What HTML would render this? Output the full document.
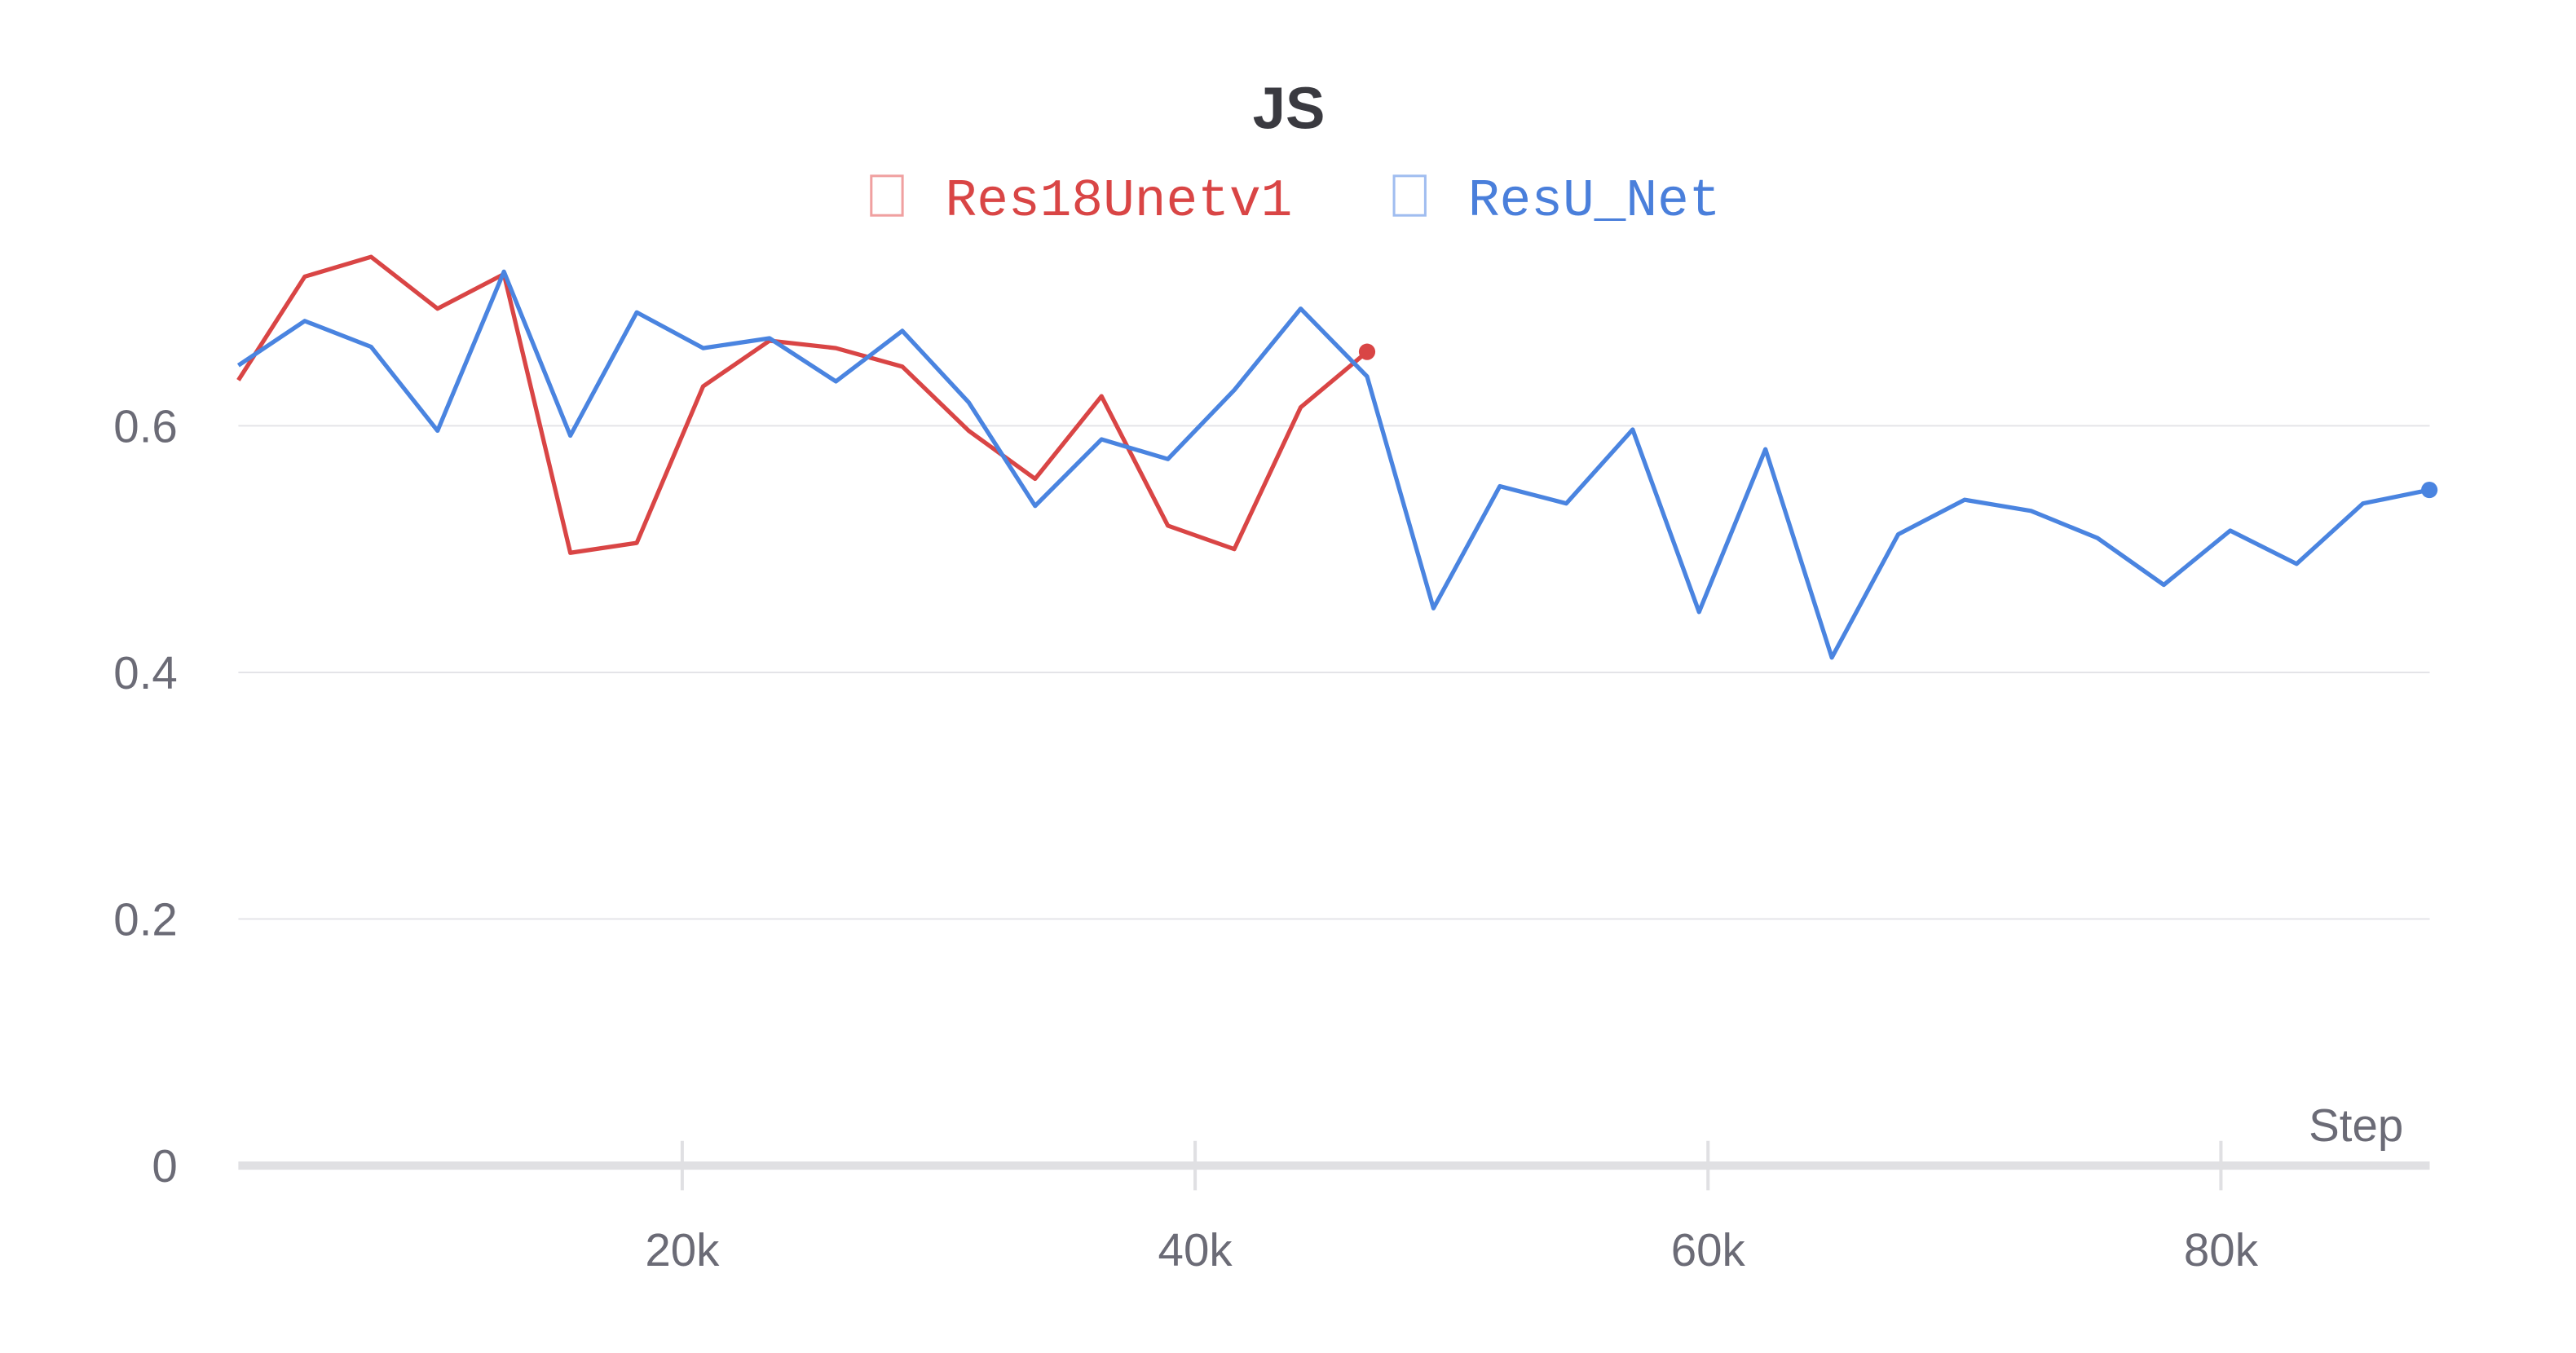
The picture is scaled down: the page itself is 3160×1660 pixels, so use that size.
<!DOCTYPE html>
<html><head><meta charset="utf-8"><style>
html,body{margin:0;padding:0;background:#fff;width:3160px;height:1660px;overflow:hidden}
svg{display:block}
</style></head><body>
<svg id="chart" width="3160" height="1660" viewBox="0 0 1567 823" preserveAspectRatio="none" xmlns="http://www.w3.org/2000/svg">
<text x="784" y="78" text-anchor="middle" font-family="Liberation Sans, sans-serif" font-weight="bold" font-size="36" fill="#3a3a40">JS</text>
<g>
<g>
<rect x="530" y="107" width="19" height="24" fill="none" stroke="#f0a0a0" stroke-width="1.5"/>
<text x="575" y="131" font-family="Liberation Mono, monospace" font-size="32" fill="#d94545">Res18Unetv1</text>
</g>
<g>
<rect x="848" y="107" width="19" height="24" fill="none" stroke="#a0bdf0" stroke-width="1.5"/>
<text x="893" y="131" font-family="Liberation Mono, monospace" font-size="32" fill="#4a7fdb">ResU_Net</text>
</g>
</g>
<g id="grid"></g><g id="axes"></g><g id="series"></g>
</svg>
<script>
const steps = [];
for (let i = 0; i < 34; i++) steps.push(2692 + i * 2589);
const resUNet = [0.649,0.685,0.664,0.596,0.725,0.592,0.692,0.663,0.671,0.636,0.677,0.619,0.535,0.589,0.573,0.629,0.695,0.640,0.452,0.551,0.537,0.597,0.449,0.581,0.412,0.512,0.540,0.531,0.509,0.471,0.515,0.488,0.537,0.548];
const res18 = [0.637,0.721,0.737,0.695,0.723,0.497,0.505,0.632,0.669,0.663,0.648,0.596,0.557,0.624,0.519,0.500,0.615,0.660];
const yTicks = [0, 0.2, 0.4, 0.6];
const yTickLabels = ["0", "0.2", "0.4", "0.6"];
const xTicks = [20000, 40000, 60000, 80000];
const xTickLabels = ["20k", "40k", "60k", "80k"];

const NS = "http://www.w3.org/2000/svg";
const X0 = 145, X1 = 1478;
const xs = s => 415 + (s - 20000) / 20000 * 312;
const ys = v => 709 - v * 750;
function mk(tag, attrs, parent) {
  const e = document.createElementNS(NS, tag);
  for (const k in attrs) e.setAttribute(k, attrs[k]);
  parent.appendChild(e);
  return e;
}
const grid = document.getElementById('grid');
const axes = document.getElementById('axes');
const series = document.getElementById('series');
yTicks.forEach((v, i) => {
  if (v !== 0) {
    const l = mk('line', {x1: X0, x2: X1, y1: ys(v), y2: ys(v), stroke: '#e4e4e8', 'stroke-width': 1}, grid);
    
    
  }
  const t = mk('text', {x: 108, y: ys(v) + 10, 'text-anchor': 'end', 'font-family': 'Liberation Sans, sans-serif', 'font-size': 28, fill: '#6b6b76'}, axes);
  t.textContent = yTickLabels[i];
  
  
});
const ax = mk('line', {x1: X0, x2: X1, y1: 709, y2: 709, stroke: '#e0e0e3', 'stroke-width': 5}, axes);


xTicks.forEach((s, i) => {
  const tk = mk('line', {x1: xs(s), x2: xs(s), y1: 694, y2: 724, stroke: '#e0e0e3', 'stroke-width': 2}, axes);
  
  
  const t = mk('text', {x: xs(s), y: 770, 'text-anchor': 'middle', 'font-family': 'Liberation Sans, sans-serif', 'font-size': 28, fill: '#6b6b76'}, axes);
  t.textContent = xTickLabels[i];
  
  
});
const st = mk('text', {x: 1462, y: 694, 'text-anchor': 'end', 'font-family': 'Liberation Sans, sans-serif', 'font-size': 28, fill: '#6b6b76'}, axes);
st.textContent = 'Step';



function drawSeries(vals, color, name) {
  const pts = vals.map((v, i) => xs(steps[i]).toFixed(2) + ',' + ys(v).toFixed(2)).join(' ');
  const pl = mk('polyline', {points: pts, fill: 'none', stroke: color, 'stroke-width': 2.6, 'stroke-linejoin': 'round'}, series);
  
  
  const n = vals.length - 1;
  const c = mk('circle', {cx: xs(steps[n]), cy: ys(vals[n]), r: 5, fill: color}, series);
  
  
}
drawSeries(res18, '#d94545', 'res18unetv1');
drawSeries(resUNet, '#4a84e0', 'resu-net');
</script>
</body></html>
